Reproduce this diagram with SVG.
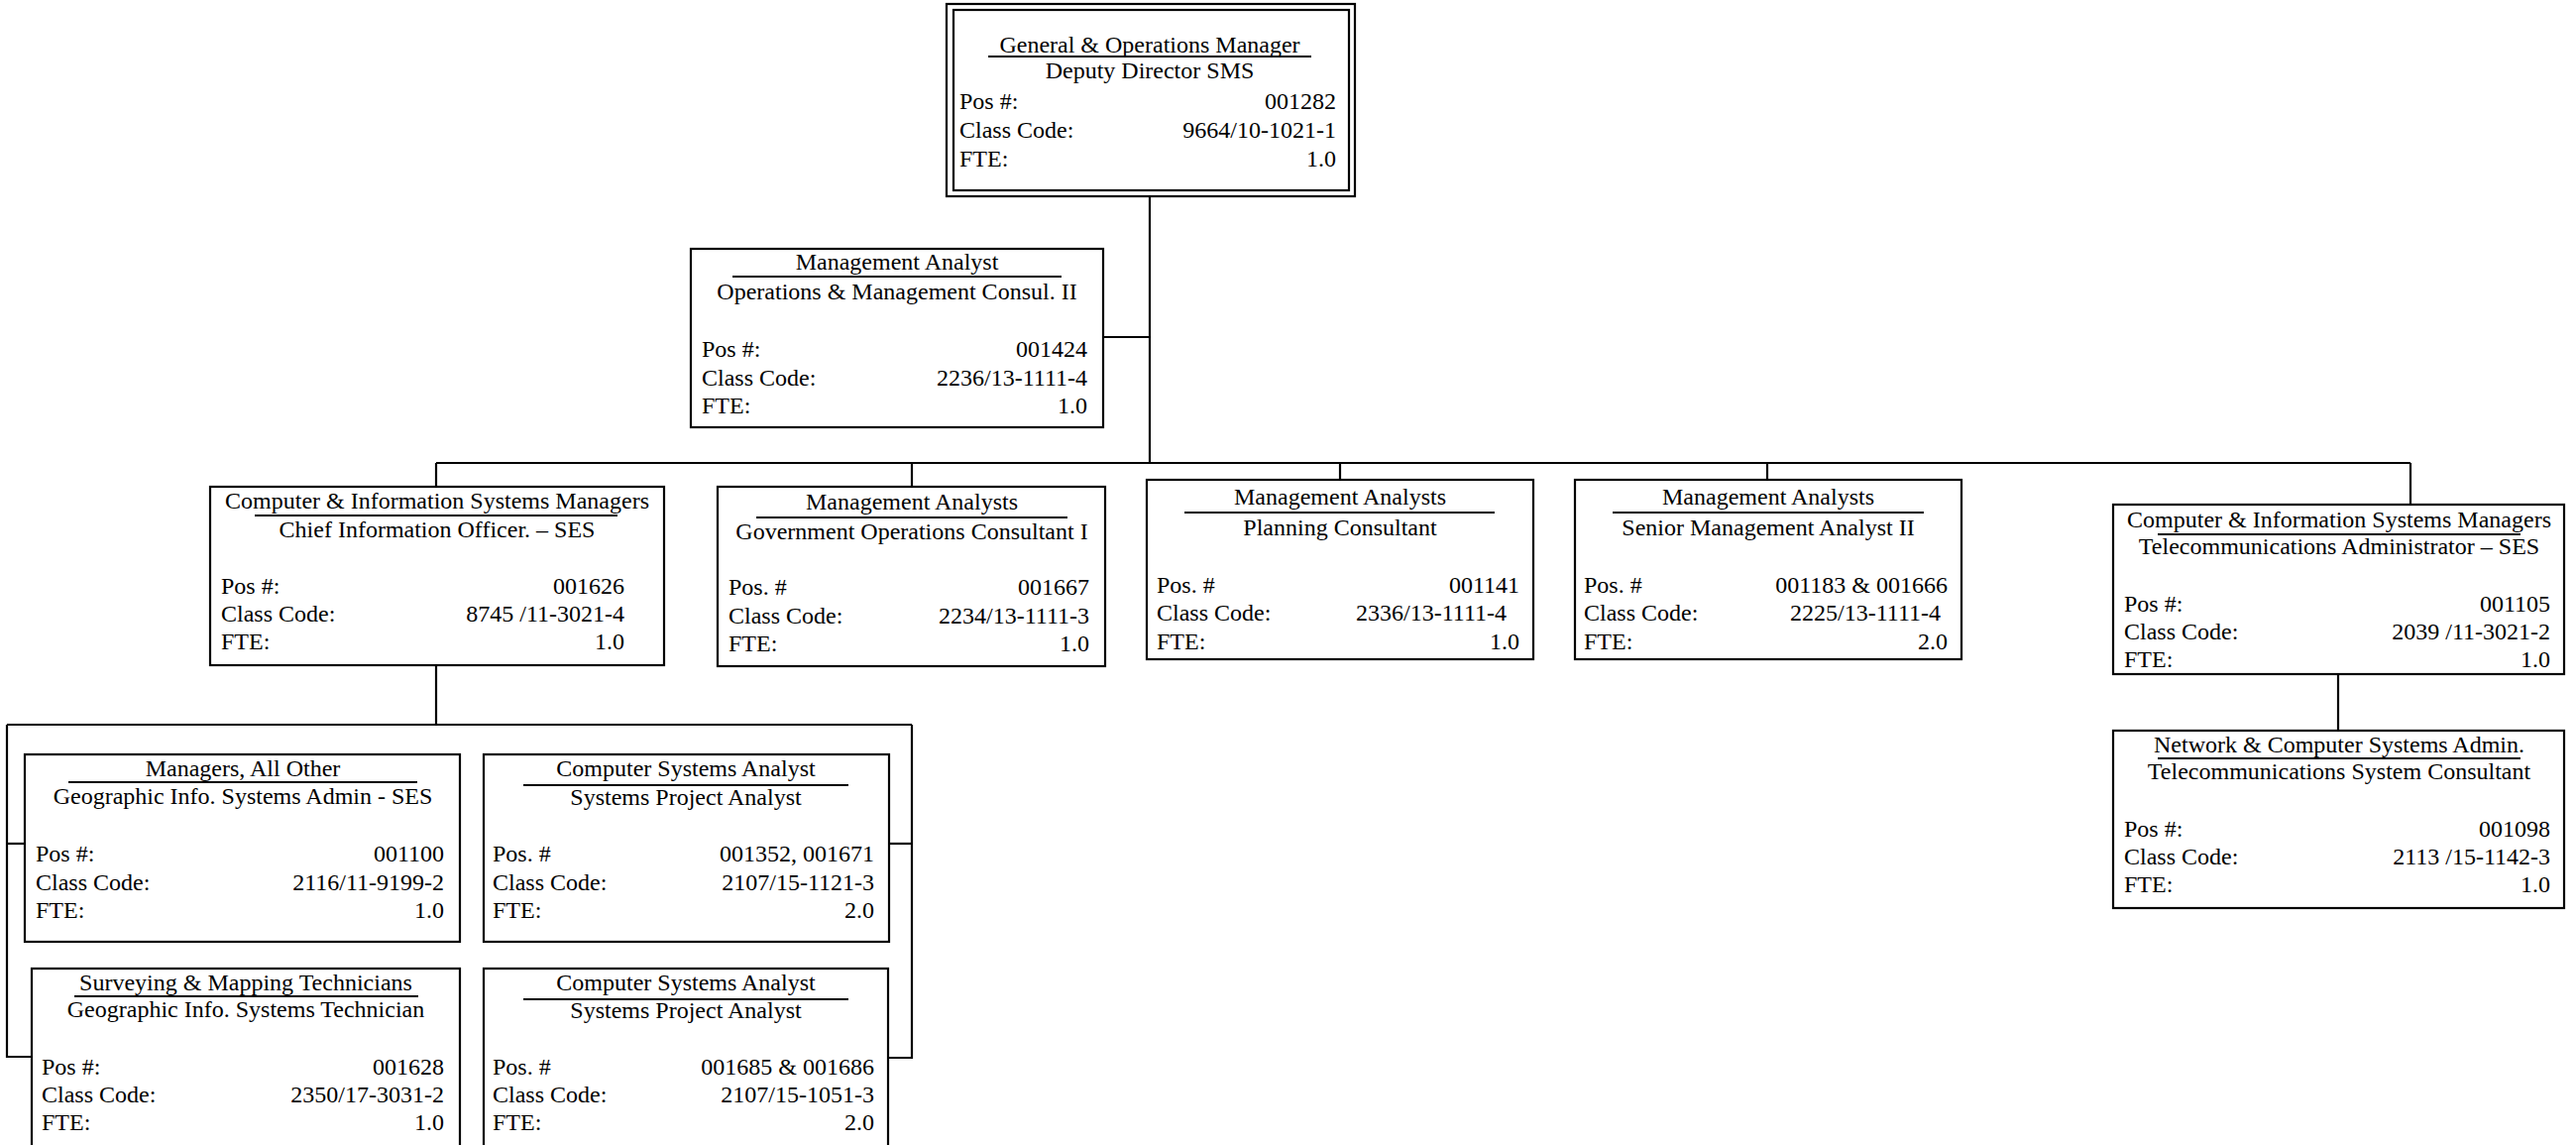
<svg xmlns="http://www.w3.org/2000/svg" width="2599" height="1155" viewBox="0 0 2599 1155">
  <style>
    .box { fill: #ffffff; stroke: #000000; stroke-width: 2.2; }
    .rule { stroke: #000000; stroke-width: 1.8; }
    .conn { fill: none; stroke: #000000; stroke-width: 2.2; }
    text { font-family: "Liberation Serif", "Times New Roman", serif; font-size: 24px; fill: #000000; }
    .c { text-anchor: middle; }
    .r { text-anchor: end; }
  </style>
  <rect x="0" y="0" width="2599" height="1155" fill="#ffffff"/>

  <!-- reporting lines -->
  <g id="connectors">
    <path class="conn" d="M1160,198 V467"/>
    <path class="conn" d="M1113,340 H1160"/>
    <path class="conn" d="M440,467 H2432"/>
    <path class="conn" d="M440,467 V491"/>
    <path class="conn" d="M920,467 V491"/>
    <path class="conn" d="M1352,467 V484"/>
    <path class="conn" d="M1783,467 V484"/>
    <path class="conn" d="M2432,467 V509"/>
    <path class="conn" d="M2359,680 V737"/>
    <path class="conn" d="M440,671 V731"/>
    <path class="conn" d="M7,731 H920"/>
    <path class="conn" d="M7,731 V1066 H32"/>
    <path class="conn" d="M7,851 H25"/>
    <path class="conn" d="M920,731 V1067 H896"/>
    <path class="conn" d="M897,851 H920"/>
  </g>

  <!-- Deputy Director -->
  <g id="node-001282">
    <rect class="box" x="955" y="4" width="412" height="194"/>
    <rect class="box" x="962" y="10" width="399" height="182"/>
    <text class="c" x="1160" y="53">General &amp; Operations Manager</text>
    <line class="rule" x1="997" y1="57" x2="1323" y2="57"/>
    <text class="c" x="1160" y="79">Deputy Director SMS</text>
    <text x="968" y="110">Pos #:</text><text class="r" x="1348" y="110">001282</text>
    <text x="968" y="139">Class Code:</text><text class="r" x="1348" y="139">9664/10-1021-1</text>
    <text x="968" y="168">FTE:</text><text class="r" x="1348" y="168">1.0</text>
  </g>

  <g id="node-001424">
    <rect class="box" x="697" y="251" width="416" height="180"/>
    <text class="c" x="905" y="272">Management Analyst</text>
    <line class="rule" x1="739" y1="279" x2="1071" y2="279"/>
    <text class="c" x="905" y="302">Operations &amp; Management Consul. II</text>
    <text x="708" y="360">Pos #:</text><text class="r" x="1097" y="360">001424</text>
    <text x="708" y="389">Class Code:</text><text class="r" x="1097" y="389">2236/13-1111-4</text>
    <text x="708" y="417">FTE:</text><text class="r" x="1097" y="417">1.0</text>
  </g>

  <g id="node-001626">
    <rect class="box" x="212" y="491" width="458" height="180"/>
    <text class="c" x="441" y="513">Computer &amp; Information Systems Managers</text>
    <line class="rule" x1="257" y1="520" x2="623" y2="520"/>
    <text class="c" x="441" y="542">Chief Information Officer. – SES</text>
    <text x="223" y="599">Pos #:</text><text class="r" x="630" y="599">001626</text>
    <text x="223" y="627">Class Code:</text><text class="r" x="630" y="627">8745 /11-3021-4</text>
    <text x="223" y="655">FTE:</text><text class="r" x="630" y="655">1.0</text>
  </g>

  <g id="node-001667">
    <rect class="box" x="724" y="491" width="391" height="181"/>
    <text class="c" x="920" y="514">Management Analysts</text>
    <line class="rule" x1="763" y1="522" x2="1077" y2="522"/>
    <text class="c" x="920" y="544">Government Operations Consultant I</text>
    <text x="735" y="600">Pos. #</text><text class="r" x="1099" y="600">001667</text>
    <text x="735" y="629">Class Code:</text><text class="r" x="1099" y="629">2234/13-1111-3</text>
    <text x="735" y="657">FTE:</text><text class="r" x="1099" y="657">1.0</text>
  </g>

  <g id="node-001141">
    <rect class="box" x="1157" y="484" width="390" height="181"/>
    <text class="c" x="1352" y="509">Management Analysts</text>
    <line class="rule" x1="1195" y1="517" x2="1508" y2="517"/>
    <text class="c" x="1352" y="540">Planning Consultant</text>
    <text x="1167" y="598">Pos. #</text><text class="r" x="1533" y="598">001141</text>
    <text x="1167" y="626">Class Code:</text><text class="r" x="1520" y="626">2336/13-1111-4</text>
    <text x="1167" y="655">FTE:</text><text class="r" x="1533" y="655">1.0</text>
  </g>

  <g id="node-001183">
    <rect class="box" x="1589" y="484" width="390" height="181"/>
    <text class="c" x="1784" y="509">Management Analysts</text>
    <line class="rule" x1="1627" y1="517" x2="1941" y2="517"/>
    <text class="c" x="1784" y="540">Senior Management Analyst II</text>
    <text x="1598" y="598">Pos. #</text><text class="r" x="1965" y="598">001183 &amp; 001666</text>
    <text x="1598" y="626">Class Code:</text><text class="r" x="1958" y="626">2225/13-1111-4</text>
    <text x="1598" y="655">FTE:</text><text class="r" x="1965" y="655">2.0</text>
  </g>

  <g id="node-001105">
    <rect class="box" x="2132" y="509" width="455" height="171"/>
    <text class="c" x="2360" y="532">Computer &amp; Information Systems Managers</text>
    <line class="rule" x1="2177" y1="539" x2="2543" y2="539"/>
    <text class="c" x="2360" y="559">Telecommunications Administrator – SES</text>
    <text x="2143" y="617">Pos #:</text><text class="r" x="2573" y="617">001105</text>
    <text x="2143" y="645">Class Code:</text><text class="r" x="2573" y="645">2039 /11-3021-2</text>
    <text x="2143" y="673">FTE:</text><text class="r" x="2573" y="673">1.0</text>
  </g>

  <g id="node-001098">
    <rect class="box" x="2132" y="737" width="455" height="179"/>
    <text class="c" x="2360" y="759">Network &amp; Computer Systems Admin.</text>
    <line class="rule" x1="2177" y1="765" x2="2543" y2="765"/>
    <text class="c" x="2360" y="786">Telecommunications System Consultant</text>
    <text x="2143" y="844">Pos #:</text><text class="r" x="2573" y="844">001098</text>
    <text x="2143" y="872">Class Code:</text><text class="r" x="2573" y="872">2113 /15-1142-3</text>
    <text x="2143" y="900">FTE:</text><text class="r" x="2573" y="900">1.0</text>
  </g>

  <g id="node-001100">
    <rect class="box" x="25" y="761" width="439" height="189"/>
    <text class="c" x="245" y="783">Managers, All Other</text>
    <line class="rule" x1="69" y1="789" x2="421" y2="789"/>
    <text class="c" x="245" y="811">Geographic Info. Systems Admin - SES</text>
    <text x="36" y="869">Pos #:</text><text class="r" x="448" y="869">001100</text>
    <text x="36" y="898">Class Code:</text><text class="r" x="448" y="898">2116/11-9199-2</text>
    <text x="36" y="926">FTE:</text><text class="r" x="448" y="926">1.0</text>
  </g>

  <g id="node-001352">
    <rect class="box" x="488" y="761" width="409" height="189"/>
    <text class="c" x="692" y="783">Computer Systems Analyst</text>
    <line class="rule" x1="528" y1="792" x2="856" y2="792"/>
    <text class="c" x="692" y="812">Systems Project Analyst</text>
    <text x="497" y="869">Pos. #</text><text class="r" x="882" y="869">001352, 001671</text>
    <text x="497" y="898">Class Code:</text><text class="r" x="882" y="898">2107/15-1121-3</text>
    <text x="497" y="926">FTE:</text><text class="r" x="882" y="926">2.0</text>
  </g>

  <g id="node-001628">
    <rect class="box" x="32" y="977" width="432" height="200"/>
    <text class="c" x="248" y="999">Surveying &amp; Mapping Technicians</text>
    <line class="rule" x1="75" y1="1005" x2="422" y2="1005"/>
    <text class="c" x="248" y="1026">Geographic Info. Systems Technician</text>
    <text x="42" y="1084">Pos #:</text><text class="r" x="448" y="1084">001628</text>
    <text x="42" y="1112">Class Code:</text><text class="r" x="448" y="1112">2350/17-3031-2</text>
    <text x="42" y="1140">FTE:</text><text class="r" x="448" y="1140">1.0</text>
  </g>

  <g id="node-001685">
    <rect class="box" x="488" y="977" width="408" height="200"/>
    <text class="c" x="692" y="999">Computer Systems Analyst</text>
    <line class="rule" x1="528" y1="1008" x2="856" y2="1008"/>
    <text class="c" x="692" y="1027">Systems Project Analyst</text>
    <text x="497" y="1084">Pos. #</text><text class="r" x="882" y="1084">001685 &amp; 001686</text>
    <text x="497" y="1112">Class Code:</text><text class="r" x="882" y="1112">2107/15-1051-3</text>
    <text x="497" y="1140">FTE:</text><text class="r" x="882" y="1140">2.0</text>
  </g>
</svg>
